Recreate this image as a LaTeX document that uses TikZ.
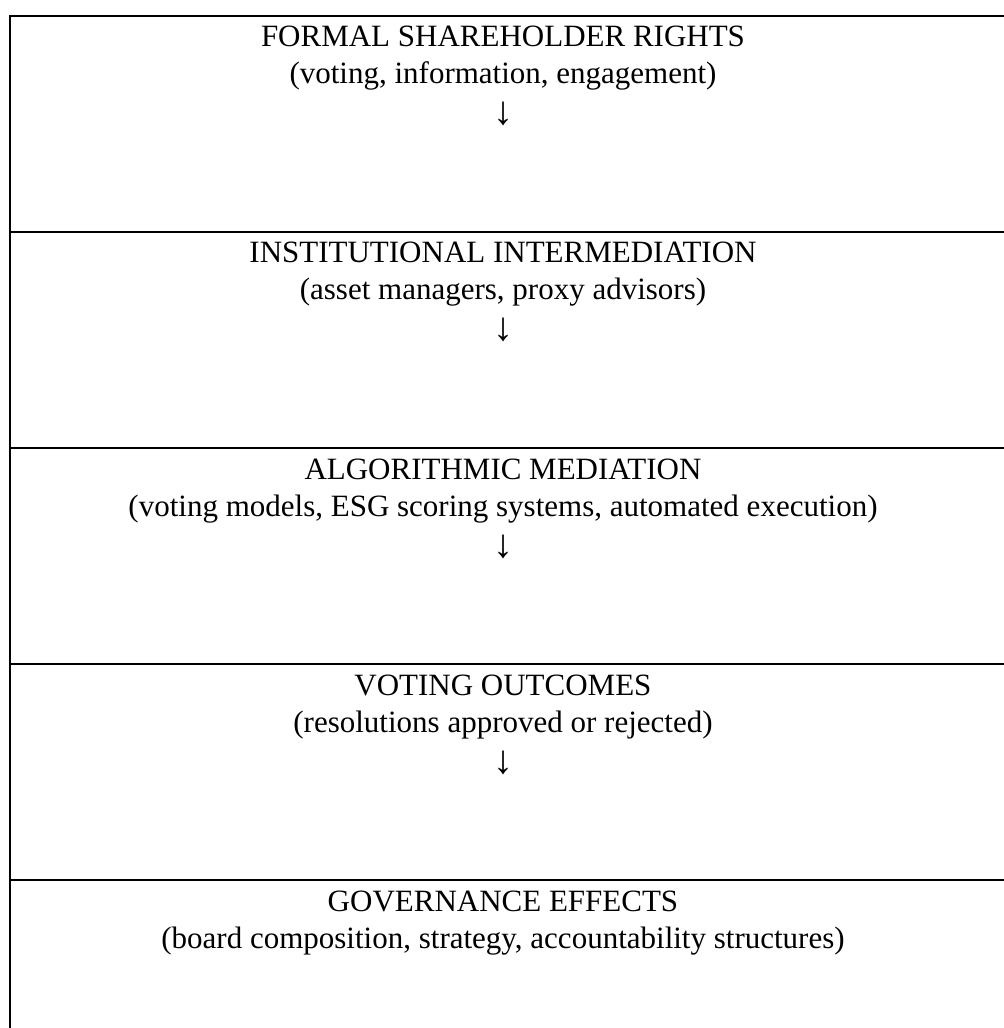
\documentclass[tikz,border=0pt]{standalone}
\usepackage{fontspec}
\setmainfont{Liberation Serif}

\newcommand{\downmark}{{\fontsize{20}{18.5}\selectfont ↓}}

\begin{document}
\begin{tikzpicture}[
  x=0.5pt,y=-0.5pt,
  rule line/.style={
    draw=black,
    line width=1pt,
    line cap=rect
  },
  layer text/.style={
    anchor=north,
    inner sep=0pt,
    align=center,
    font=\fontsize{15.5}{18.5}\selectfont
  }
]
\useasboundingbox (0,0) rectangle (1003,1028);
% outer edge of the table (cut off on the right and at the bottom)
\draw[rule line] (10,1030) -- (10,16);
\foreach \Y in {16,232,448,664,880}
  {\draw[rule line] (10,\Y) -- (1010,\Y);}
% the five layers
\node[layer text] (rights) at (503,26)
  {FORMAL SHAREHOLDER RIGHTS\\(voting, information, engagement)\\[2pt]\downmark};
\node[layer text] (intermed) at (503,242)
  {INSTITUTIONAL INTERMEDIATION\\(asset managers, proxy advisors)\\[2pt]\downmark};
\node[layer text] (algo) at (503,459)
  {ALGORITHMIC MEDIATION\\(voting models, ESG scoring systems, automated execution)\\[2pt]\downmark};
\node[layer text] (outcomes) at (503,675)
  {VOTING OUTCOMES\\(resolutions approved or rejected)\\[2pt]\downmark};
\node[layer text] (effects) at (503,891)
  {GOVERNANCE EFFECTS\\(board composition, strategy, accountability structures)};
\end{tikzpicture}
\end{document}
